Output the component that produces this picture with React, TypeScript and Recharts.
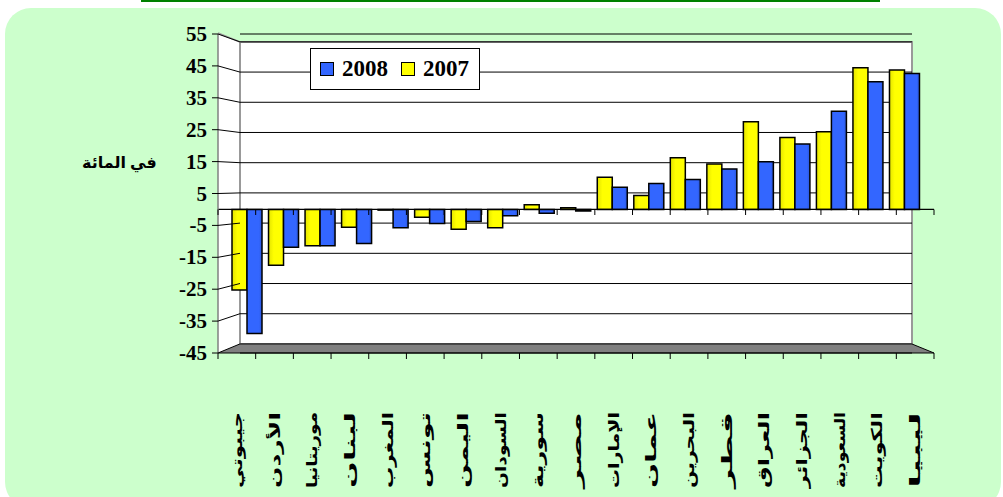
import { BarChart, Bar, XAxis, YAxis, CartesianGrid, ReferenceLine, Legend } from 'recharts';

const countries = [
  'جيبوتي', 'الأردن', 'موريتانيا', 'لبنان', 'المغرب', 'تونس', 'اليمن', 'السودان', 'سورية', 'مصر',
  'الإمارات', 'عمان', 'البحرين', 'قطر', 'العراق', 'الجزائر', 'السعودية', 'الكويت', 'ليبيا',
];
const values2007 = [-26, -18, -11.7, -5.7, -0.2, -2.5, -6.4, -5.9, 1.5, 0.6, 10.4, 4.5, 16.7, 14.7, 28.3, 23.2, 25.1, 45.7, 45];
const values2008 = [-40, -12.2, -11.7, -11, -5.9, -4.5, -3.9, -2, -1.2, -0.5, 7.2, 8.4, 9.7, 13.1, 15.4, 21.1, 31.7, 41.2, 43.9];
const yTicks = [-45, -35, -25, -15, -5, 5, 15, 25, 35, 45, 55];
const legendItems = [
  { name: '2008', color: '#3366ff' },
  { name: '2007', color: '#ffff00' },
];
const yLabel = 'في المائة';

const data = countries.map((name, i) => ({ name, pos: i + 0.5, y2007: values2007[i], y2008: values2008[i] }));
const floorTicks = countries.map((_, i) => i).concat(countries.length);

const FONT = "'Liberation Serif', 'Times New Roman', 'DejaVu Sans', serif";

function FrontTick({ x, y, payload }: any) {
  const v = payload.value;
  // slanted line on the side wall, to the matching line on the back wall
  const yBack = 208 - v * 3.02;
  return (
    <g>
      <line x1={x + 11} y1={y} x2={x + 33} y2={yBack} stroke="#000" strokeWidth={1} />
      <text x={x} y={y} textAnchor="end" dominantBaseline="central" fontFamily={FONT} fontWeight="bold" fontSize={21} fill="#000">
        {v}
      </text>
    </g>
  );
}

function CountryTick({ x, payload }: any) {
  return (
    <text
      transform={`translate(${x},412) rotate(-90)`}
      textAnchor="end"
      dominantBaseline="central"
      fontFamily={FONT}
      fontWeight="bold"
      fontSize={15}
      fill="#000"
      textLength={76}
      lengthAdjust="spacingAndGlyphs"
    >
      {payload.value}
    </text>
  );
}

function ZeroTick({ x }: any) {
  return <line x1={x} x2={x} y1={209.5} y2={215} stroke="#000" />;
}

function LegendBox() {
  return (
    <div
      style={{
        width: 170, height: 42, background: '#fff', border: '1px solid #000',
        display: 'flex', alignItems: 'center', paddingLeft: 9, boxSizing: 'border-box',
        fontFamily: FONT, fontWeight: 'bold', fontSize: 23, color: '#000',
      }}
    >
      {legendItems.map((it) => (
        <span key={it.name} style={{ display: 'flex', alignItems: 'center', marginRight: 13 }}>
          <span style={{ width: 12, height: 12, background: it.color, border: '1px solid #000', marginRight: 8 }} />
          {it.name}
        </span>
      ))}
    </div>
  );
}

export default function App() {
  return (
    <div style={{ position: 'absolute', left: 0, top: 0, width: 1003, height: 497, background: '#fff', overflow: 'hidden' }}>
      <div style={{ position: 'absolute', left: 141, top: 0, width: 739, height: 2, background: '#008000' }} />
      <div style={{ position: 'absolute', left: 5, top: 8, width: 996, height: 500, background: '#ccffcc', borderRadius: 26 }} />

      <svg width={1003} height={497} style={{ position: 'absolute', left: 0, top: 0 }}>
        <polygon points="218,33 240,42 240,344 218,353" fill="#fff" />
        <line x1={218} y1={33} x2={240} y2={42} stroke="#999" strokeWidth={1.5} />
        <rect x={240} y={42} width={672} height={302} fill="#fff" stroke="#999" strokeWidth={2} />
        <polygon points="218,353 240,344 912,344 934,353" fill="#808080" />
        <line x1={912} y1={344} x2={934} y2={353} stroke="#000" />
      </svg>

      <div style={{ position: 'absolute', left: 82, top: 153, fontFamily: FONT, fontWeight: 'bold', fontSize: 16, color: '#000', direction: 'rtl' }}>
        {yLabel}
      </div>

      <div style={{ position: 'absolute', left: 0, top: 0 }}>
        <BarChart width={1003} height={497} data={data} margin={{ top: 34, right: 69, bottom: 0, left: 0 }} barGap={0}>
          <defs>
            <linearGradient id="gradYellow" x1="0" y1="0" x2="1" y2="0">
              <stop offset="0" stopColor="#e4e400" />
              <stop offset="0.35" stopColor="#ffff00" />
              <stop offset="1" stopColor="#ffff00" />
            </linearGradient>
            <linearGradient id="gradBlue" x1="0" y1="0" x2="1" y2="0">
              <stop offset="0" stopColor="#3366ff" />
              <stop offset="0.8" stopColor="#3366ff" />
              <stop offset="1" stopColor="#2a55d6" />
            </linearGradient>
          </defs>
          <CartesianGrid xAxisId="bars" yAxisId="back" vertical={false} stroke="#000" strokeWidth={1} x={240} width={672} />
          <XAxis
            xAxisId="floor"
            type="number"
            dataKey="pos"
            domain={[0, countries.length]}
            ticks={floorTicks}
            allowDataOverflow
            interval={0}
            height={10}
            axisLine={{ stroke: '#000' }}
            tickLine={{ stroke: '#000' }}
            tickSize={6}
            tick={<ZeroTick />}
          />
          <XAxis
            xAxisId="labels"
            dataKey="name"
            height={134}
            axisLine={false}
            tickLine={false}
            interval={0}
            tick={<CountryTick />}
          />
          <XAxis xAxisId="bars" dataKey="name" hide height={0} padding={{ left: 11, right: 11 }} />
          <YAxis
            yAxisId="front"
            domain={[-45, 55]}
            ticks={yTicks}
            width={218}
            interval={0}
            allowDataOverflow
            axisLine={{ stroke: '#808080', strokeWidth: 1.5 }}
            tickLine={{ stroke: '#000' }}
            tickSize={6}
            tickMargin={5}
            tick={<FrontTick />}
          />
          <YAxis yAxisId="bars" domain={[-46.29, 56.61]} allowDataOverflow hide width={0} />
          <YAxis yAxisId="back" domain={[-48.0, 57.6]} ticks={yTicks} allowDataOverflow hide width={0} />
          <ReferenceLine xAxisId="bars" yAxisId="front" y={0} stroke="#000" strokeWidth={1.2} />
          <Legend
            layout="horizontal"
            verticalAlign="middle"
            align="center"
            content={() => <LegendBox />}
            wrapperStyle={{ left: 310, top: 48, width: 170, height: 42 }}
          />
          <Bar xAxisId="bars" yAxisId="bars" dataKey="y2007" name="2007" fill="url(#gradYellow)" stroke="#000" strokeWidth={1.5} barSize={15} isAnimationActive={false} />
          <Bar xAxisId="bars" yAxisId="bars" dataKey="y2008" name="2008" fill="url(#gradBlue)" stroke="#000" strokeWidth={1.5} barSize={15} isAnimationActive={false} />
        </BarChart>
      </div>
    </div>
  );
}
